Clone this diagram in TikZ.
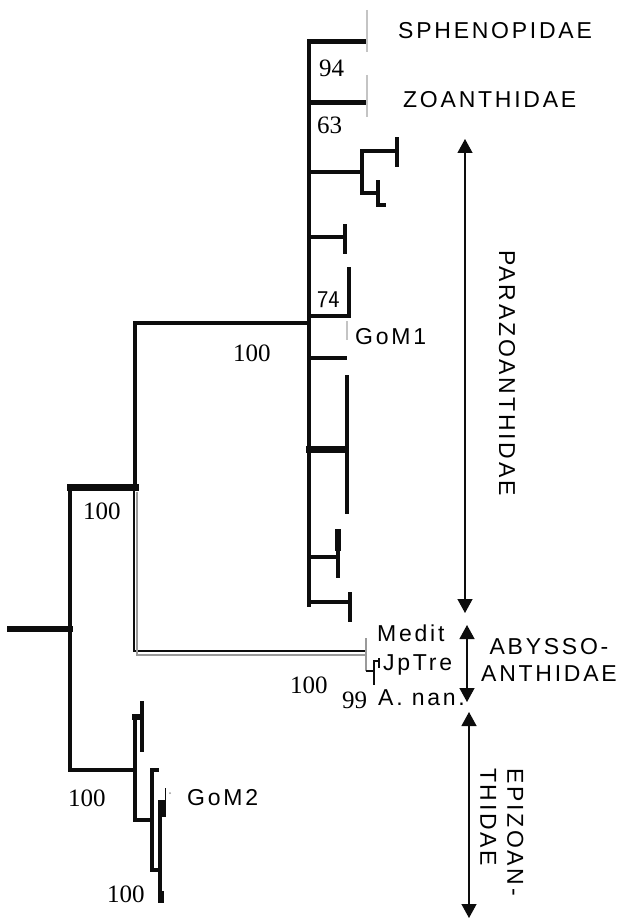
\documentclass[tikz,border=0pt]{standalone}
\usepackage{fontspec}
\setmainfont{Liberation Serif}
\newfontfamily\cladefont[LetterSpace=12]{Liberation Sans}
\usetikzlibrary{arrows.meta}
\definecolor{Ink}{HTML}{0D0D0D}
\definecolor{Shade}{HTML}{9A9A9A}
\definecolor{Faint}{HTML}{C4C4C4}

\begin{document}
\begin{tikzpicture}[x=1pt,y=-1pt,
      branch/.style={draw=Ink,line width=4pt,line cap=rect,line join=miter},
      twig/.style={draw=Ink,line width=2.5pt},
      leaf/.style={draw=Faint,line width=1.2pt},
      num/.style={inner sep=0pt,anchor=west,font=\fontsize{25}{28}\selectfont},
      taxon/.style={inner sep=0pt,anchor=west,font=\cladefont\fontsize{23}{27}\selectfont},
      bracket/.style={{Triangle[length=14pt,width=15pt]}-{Triangle[length=14pt,width=15pt]},
        line width=1.3pt,draw=Ink}
    ]
      \useasboundingbox[fill=white] (0,0) rectangle (622,920);
      % internal nodes
      \coordinate (root) at (70,629);
      \coordinate (ingroup) at (135,487);
      \coordinate (para) at (309,323);
      \coordinate (epi) at (135,770);
      \coordinate (aby) at (366,653);
      % backbone
      \draw[branch,line width=6pt] (10,629) -- (root);
      \draw[branch,line width=7pt] (root |- ingroup) -- (ingroup);
      \draw[branch,line width=3.5pt] (root |- ingroup) -- (root |- epi) -- (epi);
      \draw[branch] (ingroup) -- (135,323) -- (para);
      \draw[branch,line width=4.5pt] (309,42) -- (309,605);
      % Sphenopidae, Zoanthidae
      \draw[branch,line width=5pt] (309,42) -- (364,42);
      \draw[branch,line width=5pt] (309,103) -- (364,103);
      \draw[leaf] (367,10) -- (367,52);
      \draw[leaf] (367,75) -- (367,117);
      % Parazoanthidae
      \draw[branch] (309,172) -- (362,172);
      \draw[branch] (397,151) -| (362,193) -- (378,193);
      \draw[branch] (397,139) -- (397,165);
      \draw[branch] (378,182) -- (378,205) -- (384,205);
      \draw[branch] (309,237) -- (345,237);
      \draw[branch] (345,226) -- (345,252);
      \draw[branch] (309,316) -- (349,316);
      \draw[branch] (349,269) -- (349,316);
      \draw[leaf] (347,321) -- (347,340);
      \draw[branch] (309,358) -- (345,358);
      \draw[branch,line width=7pt] (309,449) -- (345,449);
      \draw[branch] (347,377) -- (347,512);
      \draw[branch] (309,557) -- (338,557);
      \draw[branch] (338,532) -- (338,576);
      \draw[branch,line width=6pt] (338,532) -- (338,548);
      \draw[branch] (309,602) -- (350,602);
      \draw[branch] (350,594) -- (350,620);
      % Abyssoanthidae
      \draw[twig] (134,489) -- (134,651) -- (365,651);
      \draw[draw=Shade,line width=2pt] (137,492) -- (137,655) -- (365,655);
      \draw[draw=Shade,line width=1.8pt] (366,638) -- (366,671);
      \draw[twig] (366,671) -- (374,671);
      \draw[twig] (374,660) -- (374,685);
      \draw[twig,line width=1.5pt] (374,661) -- (379,661);
      \draw[twig,line width=1.5pt] (379,658) -- (379,668);
      % Epizoanthidae
      \draw[branch,line width=4pt] (135,717) -- (135,820);
      \draw[branch,line width=6pt] (135,717) -- (141,717);
      \draw[branch,line width=3.5pt] (142,703) -- (142,750);
      \draw[branch,line width=4pt] (135,820) -- (152,820);
      \draw[branch,line width=3.5pt] (157,770) -| (152,870) -- (160,870);
      \draw[branch,line width=3.5pt] (160,802) -- (160,900);
      \draw[branch,line width=5pt] (163,802) -- (163,814);
      \draw[branch,line width=6pt] (161,894) -- (161,900);
      \draw[twig,line width=1pt] (165,788) -- (165,800);
      \fill[Shade] (170,793) circle (1pt);
      % support values
      \node[num] (s94) at (319,68) {94};
      \node[num] (s63) at (317,125) {63};
      \node[num,font=\sffamily\fontsize{24}{27}\selectfont] (s74) at (317,300) {74};
      \node[num] (sPara) at (233,353) {100};
      \node[num] (sIn) at (83,511) {100};
      \node[num] (sAby) at (290,685) {100};
      \node[num] (sAnan) at (342,700) {99};
      \node[num] (sEpi) at (68,798) {100};
      \node[num] (sEpiLow) at (107,894) {100};
      % terminal labels
      \node[taxon] (spheno) at (398,31) {SPHENOPIDAE};
      \node[taxon] (zoan) at (403,100) {ZOANTHIDAE};
      \node[taxon] (gom1) at (355,337) {GoM1};
      \node[taxon] (medit) at (377,633) {Medit};
      \node[taxon] (jptre) at (383,665) {JpTre};
      \node[taxon] (anan) at (378,698) {A. nan.};
      \node[taxon] (gom2) at (187,798) {GoM2};
      % family brackets
      \coordinate (paraTop) at (465,139);
      \coordinate (paraBot) at (465,613);
      \coordinate (abyTop) at (467,625);
      \coordinate (abyBot) at (467,702);
      \coordinate (epiTop) at (469,712);
      \coordinate (epiBot) at (469,918);
      \draw[bracket] (paraTop) -- (paraBot);
      \draw[bracket] (abyTop) -- (abyBot);
      \draw[bracket] (epiTop) -- (epiBot);
      \node[taxon,anchor=center,rotate=-90] (paraName) at (507,373) {PARAZOANTHIDAE};
      \node[taxon,anchor=center,align=center] (abyName) at (549,660) {ABYSSO-\\ANTHIDAE};
      \node[taxon,anchor=center,align=left,rotate=-90] (epiName) at (502,832) {EPIZOAN-\\THIDAE};
    \end{tikzpicture}
\end{document}
